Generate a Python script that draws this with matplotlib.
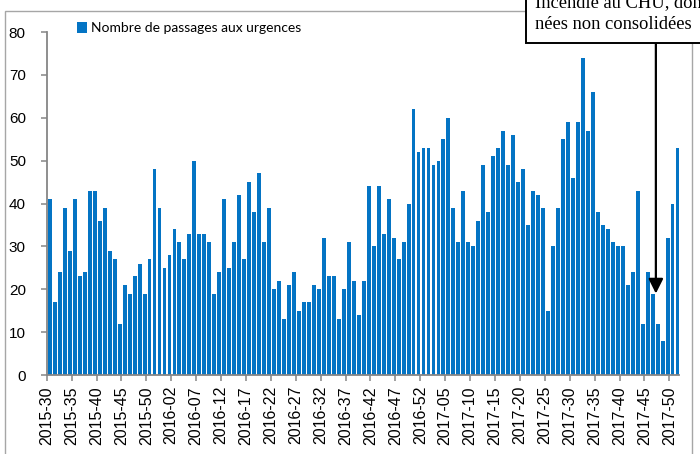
import numpy as np
import matplotlib.pyplot as plt
from matplotlib.patches import Rectangle

# Nombre de passages hebdomadaires, semaines 2015-30 à 2017-51
passages = [
    41, 17, 24, 39, 29, 41, 23, 24, 43, 43,
    36, 39, 29, 27, 12, 21, 19, 23, 26, 19,
    27, 48, 39, 25, 28, 34, 31, 27, 33, 50,
    33, 33, 31, 19, 24, 41, 25, 31, 42, 27,
    45, 38, 47, 31, 39, 20, 22, 13, 21, 24,
    15, 17, 17, 21, 20, 32, 23, 23, 13, 20,
    31, 22, 14, 22, 44, 30, 44, 33, 41, 32,
    27, 31, 40, 62, 52, 53, 53, 49, 50, 55,
    60, 39, 31, 43, 31, 30, 36, 49, 38, 51,
    53, 57, 49, 56, 45, 48, 35, 43, 42, 39,
    15, 30, 39, 55, 59, 46, 59, 74, 57, 66,
    38, 35, 34, 31, 30, 30, 21, 24, 43, 12,
    24, 19, 12, 8, 32, 40, 53,
]

tick_labels = [
    '2015-30', '2015-35', '2015-40', '2015-45', '2015-50',
    '2016-02', '2016-07', '2016-12', '2016-17', '2016-22',
    '2016-27', '2016-32', '2016-37', '2016-42', '2016-47',
    '2016-52', '2017-05', '2017-10', '2017-15', '2017-20',
    '2017-25', '2017-30', '2017-35', '2017-40', '2017-45',
    '2017-50',
]

legend_label = 'Nombre de passages aux urgences'
note_lines = ['Incendie au CHU, don-', 'nées non consolidées']
arrow_week = 121  # semaine pointée par la flèche

axis_grey = '#868686'

fig = plt.figure(figsize=(7, 4.54), dpi=100)

# cadre du graphique
fig.patches.append(Rectangle((0.0071, -0.05), 0.981, 1.0264, transform=fig.transFigure,
                             fill=False, edgecolor='#A6A6A6', linewidth=1.0, zorder=0))

ax = fig.add_axes([0.0667, 0.174, 0.9037, 0.7555])
ax.patch.set_alpha(0)
x = np.arange(len(passages))
ax.bar(x + 0.15, passages, width=0.78, color='#0474C4', label=legend_label, zorder=2)

ax.set_xlim(-0.5, len(passages) - 0.5)
ax.set_ylim(0, 80)
ax.set_yticks(range(0, 81, 10))
ax.set_xticks(np.arange(0, len(passages), 5) - 0.5)
ax.set_xticklabels(tick_labels, rotation=90, fontsize=11.5, family='Liberation Sans')
for lab in ax.get_yticklabels():
    lab.set_family('Liberation Sans')
    lab.set_fontsize(11)

for side in ['top', 'right']:
    ax.spines[side].set_visible(False)
for side in ['left', 'bottom']:
    ax.spines[side].set_color(axis_grey)
    ax.spines[side].set_linewidth(1.3)
ax.tick_params(axis='y', direction='out', length=4, width=1.1, pad=11)
ax.tick_params(axis='x', direction='out', length=4, width=1.1, pad=4)
ax.tick_params(axis='both', colors=axis_grey, labelcolor='black')

fig.legend(loc='center left', bbox_to_anchor=(0.1, 0.938), frameon=False,
           handlelength=0.75, handleheight=0.9, handletextpad=0.25, borderpad=0,
           prop={'family': 'Lato', 'size': 10})

# encadré + flèche
box = Rectangle((0.7514, 0.9046), 0.4, 0.3, transform=fig.transFigure,
                facecolor='white', edgecolor='black', linewidth=1.4, zorder=5)
fig.patches.append(box)
fig.text(0.7643, 1 - 7.3 / 454, note_lines[0], family='Liberation Serif', fontsize=13.3,
         va='baseline', ha='left', zorder=6)
fig.text(0.7643, 1 - 29.3 / 454, note_lines[1], family='Liberation Serif', fontsize=13.3,
         va='baseline', ha='left', zorder=6)

ax.annotate('', xy=(arrow_week + 0.8, passages[arrow_week]), xycoords='data',
            xytext=(arrow_week + 0.8, 86.7), textcoords='data',
            arrowprops=dict(arrowstyle='-|>', color='black', lw=1.6,
                            mutation_scale=22, shrinkA=0, shrinkB=0),
            annotation_clip=False, zorder=4)

fig.savefig('out.png', dpi=100)
